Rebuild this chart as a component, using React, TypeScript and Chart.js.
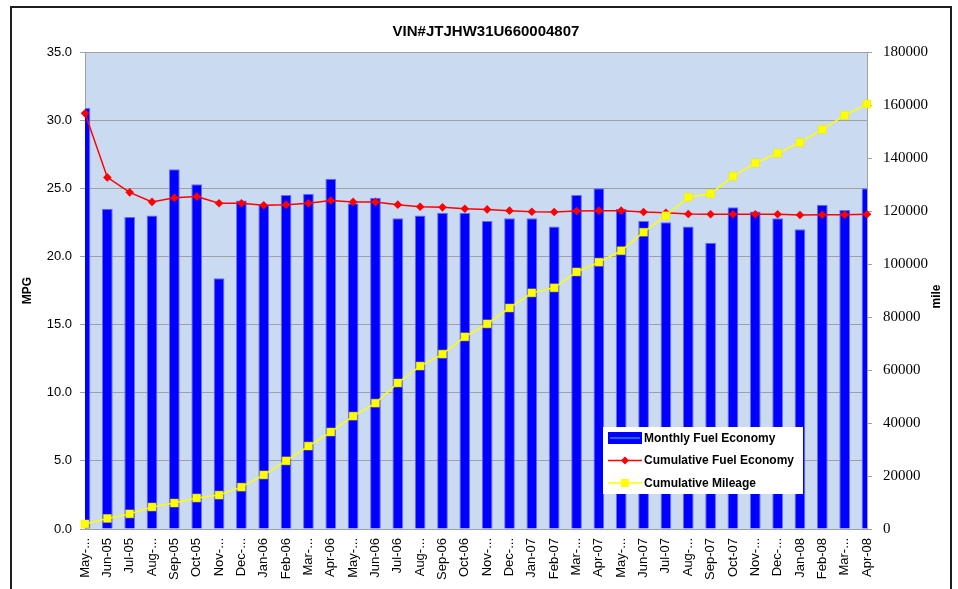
import React, { useEffect, useRef } from 'react';
import { Chart, registerables } from 'chart.js';

Chart.register(...registerables);

const SANS = '"Liberation Sans", Arial, sans-serif';
const SERIF = '"Liberation Serif", "Times New Roman", serif';

const chartTitle = 'VIN#JTJHW31U660004807';
const leftAxisTitle = 'MPG';
const rightAxisTitle = 'mile';

const months = [
  'May-...', 'Jun-05', 'Jul-05', 'Aug-...', 'Sep-05', 'Oct-05', 'Nov-...', 'Dec-...',
  'Jan-06', 'Feb-06', 'Mar-...', 'Apr-06', 'May-...', 'Jun-06', 'Jul-06', 'Aug-...',
  'Sep-06', 'Oct-06', 'Nov-...', 'Dec-...',
  'Jan-07', 'Feb-07', 'Mar-...', 'Apr-07', 'May-...', 'Jun-07', 'Jul-07', 'Aug-...',
  'Sep-07', 'Oct-07', 'Nov-...', 'Dec-...',
  'Jan-08', 'Feb-08', 'Mar-...', 'Apr-08',
];

const monthlyFuelEconomy = [
  30.9, 23.5, 22.9, 23.0, 26.4, 25.3, 18.4, 24.1,
  23.8, 24.5, 24.6, 25.7, 23.9, 24.3, 22.8, 23.0, 23.2, 23.2, 22.6, 22.8,
  22.8, 22.2, 24.5, 25.0, 23.5, 22.6, 22.5, 22.2, 21.0, 23.6, 23.3, 22.8,
  22.0, 23.8, 23.4, 25.0,
];

const cumulativeFuelEconomy = [
  30.5, 25.8, 24.7, 24.0, 24.3, 24.4, 23.9, 23.9,
  23.75, 23.8, 23.9, 24.1, 24.0, 24.0, 23.8, 23.65, 23.6, 23.5, 23.45, 23.36,
  23.28, 23.26, 23.33, 23.36, 23.36, 23.26, 23.21, 23.11, 23.09, 23.09, 23.09, 23.09,
  23.04, 23.06, 23.06, 23.09,
];

const cumulativeMileage = [
  1900, 4000, 5700, 8300, 9800, 11700, 12800, 15800,
  20400, 25700, 31300, 36600, 42600, 47500, 55100, 61500, 66000, 72500, 77400, 83400,
  89100, 91000, 97000, 100700, 105000, 112000, 118200, 125200, 126500, 133100, 138100, 141800,
  145800, 150800, 156100, 160400,
];

const seriesNames = ['Monthly Fuel Economy', 'Cumulative Fuel Economy', 'Cumulative Mileage'];

const PLOT_BG = '#cadbf1';
const GRID = '#a0a0a0';

const backgroundPlugin = {
  id: 'plotBackground',
  beforeDraw(chart: any) {
    const { ctx, chartArea } = chart;
    ctx.save();
    ctx.fillStyle = PLOT_BG;
    ctx.fillRect(chartArea.left, chartArea.top, chartArea.right - chartArea.left, chartArea.bottom - chartArea.top);
    ctx.restore();
  },
};

const rightTitlePlugin = {
  id: 'rightTitle',
  afterDraw(chart: any) {
    const { ctx, chartArea } = chart;
    ctx.save();
    ctx.font = `bold 12px ${SANS}`;
    ctx.fillStyle = '#000';
    ctx.textAlign = 'center';
    ctx.textBaseline = 'middle';
    ctx.translate(chartArea.right + 70, (chartArea.top + chartArea.bottom) / 2 + 6);
    ctx.rotate(-Math.PI / 2);
    ctx.fillText(rightAxisTitle, 0, 0);
    ctx.restore();
  },
};

const legendPlugin = {
  id: 'boxLegend',
  afterDraw(chart: any) {
    const { ctx, chartArea } = chart;
    const x = chartArea.left + 518;
    const y = chartArea.top + 375;
    const w = 200;
    const h = 67;
    ctx.save();
    ctx.fillStyle = '#ffffff';
    ctx.fillRect(x, y, w, h);
    const sx = x + 5;
    const sw = 34;
    const rows = [y + 11, y + 33.5, y + 56];
    ctx.fillStyle = '#0000ff';
    ctx.fillRect(sx, rows[0] - 6, sw, 12);
    ctx.strokeStyle = '#2a86c8';
    ctx.lineWidth = 1.5;
    ctx.beginPath();
    ctx.moveTo(sx + 2, rows[0]);
    ctx.lineTo(sx + sw - 2, rows[0]);
    ctx.stroke();
    ctx.strokeStyle = '#ff0000';
    ctx.lineWidth = 1.5;
    ctx.beginPath();
    ctx.moveTo(sx, rows[1]);
    ctx.lineTo(sx + sw, rows[1]);
    ctx.stroke();
    ctx.fillStyle = '#ff0000';
    const cx = sx + sw / 2;
    ctx.beginPath();
    ctx.moveTo(cx - 4, rows[1]);
    ctx.lineTo(cx, rows[1] - 4);
    ctx.lineTo(cx + 4, rows[1]);
    ctx.lineTo(cx, rows[1] + 4);
    ctx.closePath();
    ctx.fill();
    ctx.strokeStyle = '#ffff00';
    ctx.beginPath();
    ctx.moveTo(sx, rows[2]);
    ctx.lineTo(sx + sw, rows[2]);
    ctx.stroke();
    ctx.fillStyle = '#ffff00';
    ctx.fillRect(cx - 4, rows[2] - 4, 8, 8);
    ctx.fillStyle = '#000';
    ctx.font = `bold 12px ${SANS}`;
    ctx.textAlign = 'left';
    ctx.textBaseline = 'middle';
    seriesNames.forEach((n, i) => ctx.fillText(n, sx + sw + 2, rows[i] + 0.5));
    ctx.restore();
  },
};

export default function App() {
  const canvasRef = useRef<HTMLCanvasElement | null>(null);

  useEffect(() => {
    const canvas = canvasRef.current;
    if (!canvas) return;
    const chart = new Chart(canvas, {
      type: 'bar',
      data: {
        labels: months,
        datasets: [
          {
            type: 'line',
            label: seriesNames[2],
            data: cumulativeMileage,
            yAxisID: 'y1',
            borderColor: '#ffff00',
            backgroundColor: '#ffff00',
            borderWidth: 1.5,
            pointStyle: 'rect',
            pointRadius: 5.6,
            pointBorderWidth: 0.5,
            pointBorderColor: '#e6e600',
            pointBackgroundColor: '#ffff00',
            tension: 0,
            order: 0,
          } as any,
          {
            type: 'line',
            label: seriesNames[1],
            data: cumulativeFuelEconomy,
            yAxisID: 'y',
            borderColor: '#ff0000',
            backgroundColor: '#ff0000',
            borderWidth: 1.5,
            pointStyle: 'rectRot',
            pointRadius: 4.3,
            pointBorderWidth: 0,
            pointBackgroundColor: '#ff0000',
            tension: 0,
            order: 1,
          } as any,
          {
            type: 'bar',
            label: seriesNames[0],
            data: monthlyFuelEconomy,
            yAxisID: 'y',
            backgroundColor: '#0000ff',
            borderColor: '#6a6aff',
            borderWidth: 1,
            categoryPercentage: 1,
            barPercentage: 0.48,
            clip: 0,
            order: 2,
          } as any,
        ],
      },
      options: {
        responsive: false,
        animation: false,
        devicePixelRatio: 1,
        layout: { padding: { left: 14, right: 0, top: 0, bottom: 0 } },
        plugins: {
          legend: { display: false },
          tooltip: { enabled: false },
          title: {
            display: true,
            text: chartTitle,
            color: '#000',
            font: { family: SANS, size: 15, weight: 'bold' },
            padding: { top: 23, bottom: 11 },
          },
        },
        scales: {
          x: {
            type: 'category',
            offset: false,
            grid: { display: false, drawTicks: false },
            border: { display: true, color: GRID, width: 1 },
            ticks: {
              autoSkip: false,
              minRotation: 90,
              maxRotation: 90,
              padding: 9,
              color: '#000',
              font: { family: SANS, size: 13 },
            },
            afterFit: (s: any) => { s.height = 60; },
          },
          y: {
            position: 'left',
            min: 0,
            max: 35,
            ticks: {
              stepSize: 5,
              padding: 8,
              color: '#000',
              font: { family: SANS, size: 13 },
              callback: (v: any) => Number(v).toFixed(1),
            },
            grid: { color: GRID, tickLength: 5 },
            border: { color: GRID },
            title: {
              display: true,
              text: leftAxisTitle,
              color: '#000',
              font: { family: SANS, size: 12, weight: 'bold' },
              padding: { top: 6, bottom: 0 },
            },
            afterFit: (s: any) => { s.width = 71; },
          },
          y1: {
            position: 'right',
            min: 0,
            max: 180000,
            ticks: {
              stepSize: 20000,
              padding: 11,
              color: '#000',
              font: { family: SERIF, size: 15 },
              callback: (v: any) => String(v),
            },
            grid: { drawOnChartArea: false, color: GRID, tickLength: 5 },
            border: { color: GRID },
            afterFit: (s: any) => { s.width = 91; },
          },
        },
      } as any,
      plugins: [backgroundPlugin, rightTitlePlugin, legendPlugin],
    });
    return () => chart.destroy();
  }, []);

  return (
    <div style={{ position: 'absolute', left: 0, top: 0, width: 958, height: 589, overflow: 'hidden', background: '#fff' }}>
      <div
        style={{
          position: 'absolute',
          left: 10,
          top: 6,
          width: 942,
          height: 640,
          boxSizing: 'border-box',
          border: '2px solid #1e1e1e',
        }}
      />
      <canvas
        ref={canvasRef}
        width={958}
        height={589}
        style={{ position: 'absolute', left: 0, top: 0, width: 958, height: 589 }}
      />
    </div>
  );
}
